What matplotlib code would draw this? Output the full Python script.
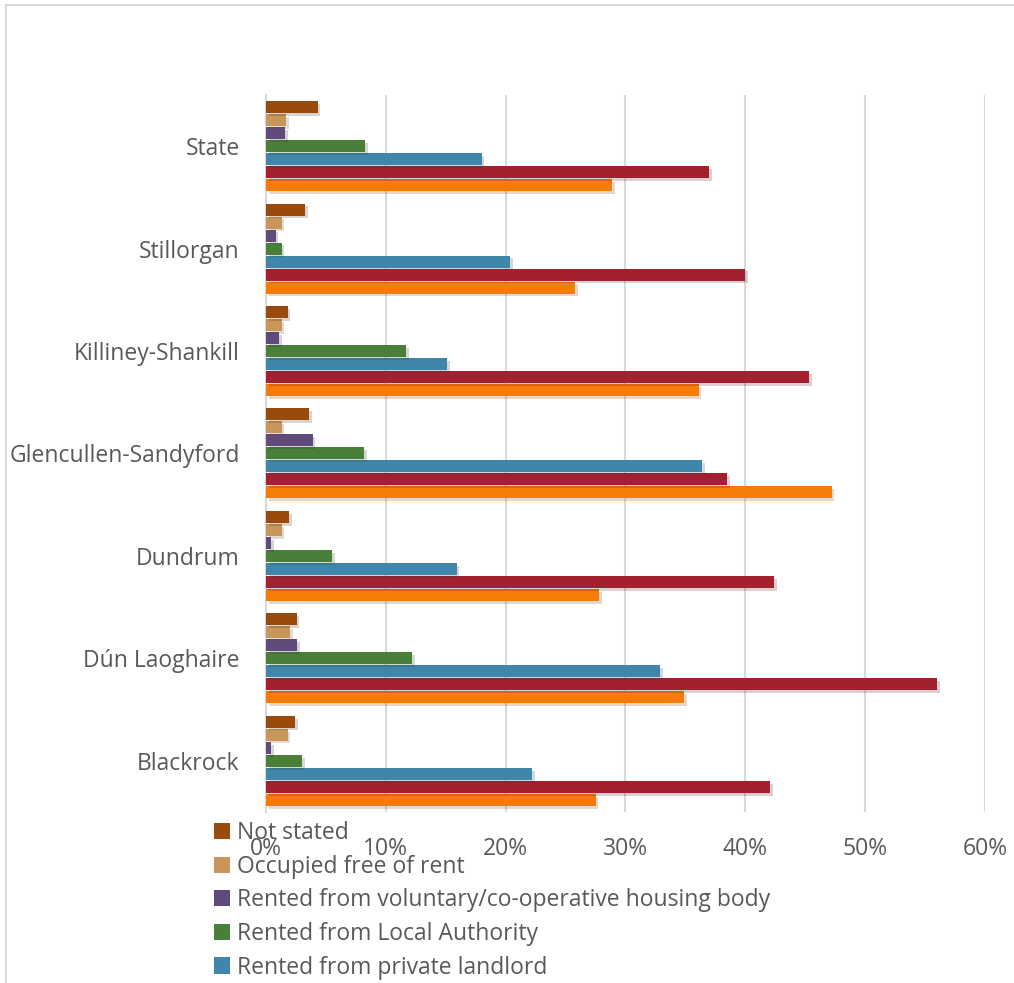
import matplotlib
matplotlib.use('Agg')
import matplotlib.pyplot as plt
import matplotlib.patheffects as pe
from matplotlib.patches import Rectangle, Patch
import numpy as np

plt.rcParams['font.family'] = ['Open Sans', 'DejaVu Sans']

# areas, bottom to top as drawn
areas = ['Blackrock', 'Dún Laoghaire', 'Dundrum', 'Glencullen-Sandyford',
         'Killiney-Shankill', 'Stillorgan', 'State']

# series values (%), same order as areas
with_mortgage = [27.5, 34.9, 27.8, 47.2, 36.1, 25.8, 28.9]
without_mortgage = [42.1, 56.0, 42.4, 38.5, 45.3, 40.0, 37.0]
private_landlord = [22.2, 32.9, 15.9, 36.4, 15.1, 20.4, 18.0]
local_authority = [3.0, 12.2, 5.5, 8.2, 11.7, 1.3, 8.3]
voluntary = [0.4, 2.6, 0.45, 3.9, 1.1, 0.8, 1.6]
free_of_rent = [1.8, 2.0, 1.3, 1.3, 1.3, 1.3, 1.7]
not_stated = [2.45, 2.55, 1.95, 3.6, 1.8, 3.25, 4.3]

series = [
    ('Owner occupied with mortgage', with_mortgage, '#F77B08'),
    ('Owner occupied without mortgage', without_mortgage, '#A3202F'),
    ('Rented from private landlord', private_landlord, '#3F86AA'),
    ('Rented from Local Authority', local_authority, '#4A7F3A'),
    ('Rented from voluntary/co-operative housing body', voluntary, '#604A7B'),
    ('Occupied free of rent', free_of_rent, '#C8965A'),
    ('Not stated', not_stated, '#9A4A0A'),
]

fig = plt.figure(figsize=(10.14, 9.83), dpi=100)
ax = fig.add_axes([0.2623, 0.174, 0.7091, 0.7294])

y = np.arange(len(areas))
step = 0.127
h = 0.117
shadow = [pe.SimplePatchShadow(offset=(2, -2), alpha=0.2, rho=0.5), pe.Normal()]

for i, (name, vals, col) in enumerate(series):
    bars = ax.barh(y + (i - 3) * step, vals, height=h, color=col, label=name, zorder=3)
    for b in bars:
        b.set_path_effects(shadow)

ax.set_xlim(0, 60)
ax.set_ylim(-0.5, 6.5)
ax.set_xticks(np.arange(0, 61, 10))
ax.set_xticklabels([f'{v}%' for v in range(0, 61, 10)])
ax.set_yticks(y)
ax.set_yticklabels(areas)
ax.tick_params(length=0, labelsize=16.5, colors='#595959')
ax.tick_params(axis='x', pad=18)
ax.tick_params(axis='y', pad=19)
ax.grid(axis='x', color='#D9D9D9', linewidth=1.5, zorder=0)
for s in ['top', 'right', 'bottom']:
    ax.spines[s].set_visible(False)
ax.spines['left'].set_color('#D9D9D9')
ax.spines['left'].set_linewidth(1.5)

# legend: only the first five rows fit inside the picture, as in the original
shown = series[::-1][:5]
handles = [Patch(facecolor=c, edgecolor='none') for _, _, c in shown]
fig.legend(handles, [n for n, _, _ in shown],
           loc='upper left', bbox_to_anchor=(0.211, 1 - 821 / 983),
           frameon=False, fontsize=16.5, labelcolor='#595959',
           handlelength=0.7, handleheight=0.7, handletextpad=0.3,
           labelspacing=0.42, borderaxespad=0, borderpad=0)

# outer chart frame
fig.patches.append(Rectangle((6 / 1014, -0.05), 1.2, 1 - 5 / 983 + 0.05,
                             transform=fig.transFigure, fill=False,
                             edgecolor='#D9D9D9', linewidth=1.5))

fig.savefig('out.png', dpi=100)
